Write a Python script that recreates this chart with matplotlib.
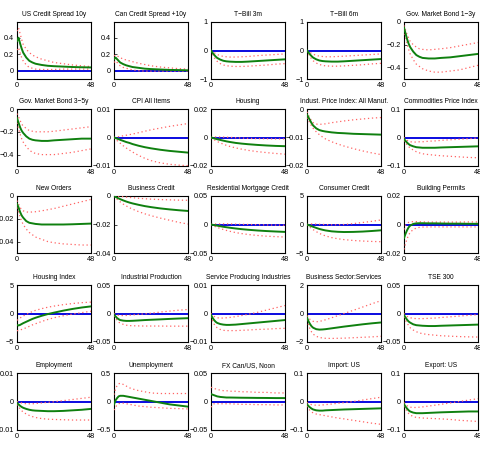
import matplotlib
matplotlib.use('Agg')
import matplotlib.pyplot as plt

plt.rcParams['font.family'] = ['Liberation Sans Narrow', 'Liberation Sans', 'DejaVu Sans']
plt.rcParams['axes.unicode_minus'] = True

# horizons (months) at which the responses were read
h = [0, 1, 2, 3, 4, 6, 8, 10, 12, 16, 20, 24, 30, 36, 42, 48]

titles = ['US Credit Spread 10y', 'Can Credit Spread +10y', 'T\u2212Bill 3m', 'T\u2212Bill 6m', 'Gov. Market Bond 1\u22123y',
          'Gov. Market Bond 3\u22125y', 'CPI All Items', 'Housing', 'Indust. Price Index: All Manuf.', 'Commodities Price Index',
          'New Orders', 'Business Credit', 'Residential Mortgage Credit', 'Consumer Credit', 'Building Permits',
          'Housing Index', 'Industrial Production', 'Service Producing Industries', 'Business Sector:Services', 'TSE 300',
          'Employment', 'Unemployment', 'FX Can/US, Noon', 'Import: US', 'Export: US']

ylims = [(-0.1, 0.59), (-0.1, 0.59), (-1, 1), (-1, 1), (-0.5, 0),
         (-0.5, 0), (-0.01, 0.01), (-0.02, 0.02), (-0.02, 0), (-0.1, 0.1),
         (-0.05, 0), (-0.04, 0), (-0.05, 0.05), (-5, 5), (-0.02, 0.02),
         (-5, 5), (-0.05, 0.05), (-0.01, 0.01), (-2, 2), (-0.05, 0.05),
         (-0.01, 0.01), (-0.5, 0.5), (-0.05, 0.05), (-0.1, 0.1), (-0.1, 0.1)]

yticks = [[0, 0.2, 0.4], [0, 0.2, 0.4], [-1, 0, 1], [-1, 0, 1], [-0.4, -0.2, 0],
          [-0.4, -0.2, 0], [-0.01, 0, 0.01], [-0.02, 0, 0.02], [-0.02, -0.01, 0], [-0.1, 0, 0.1],
          [-0.04, -0.02, 0], [-0.04, -0.02, 0], [-0.05, 0, 0.05], [-5, 0, 5], [-0.02, 0, 0.02],
          [-5, 0, 5], [-0.05, 0, 0.05], [-0.01, 0, 0.01], [-2, 0, 2], [-0.05, 0, 0.05],
          [-0.01, 0, 0.01], [-0.5, 0, 0.5], [-0.05, 0, 0.05], [-0.1, 0, 0.1], [-0.1, 0, 0.1]]

ytick_labels = [['0', '0.2', '0.4'], ['0', '0.2', '0.4'], ['\u22121', '0', '1'], ['\u22121', '0', '1'], ['\u22120.4', '\u22120.2', '0'],
                ['\u22120.4', '\u22120.2', '0'], ['\u22120.01', '0', '0.01'], ['\u22120.02', '0', '0.02'], ['\u22120.02', '\u22120.01', '0'], ['\u22120.1', '0', '0.1'],
                ['\u22120.04', '\u22120.02', '0'], ['\u22120.04', '\u22120.02', '0'], ['\u22120.05', '0', '0.05'], ['\u22125', '0', '5'], ['\u22120.02', '0', '0.02'],
                ['\u22125', '0', '5'], ['\u22120.05', '0', '0.05'], ['\u22120.01', '0', '0.01'], ['\u22122', '0', '2'], ['\u22120.05', '0', '0.05'],
                ['\u22120.01', '0', '0.01'], ['\u22120.5', '0', '0.5'], ['\u22120.05', '0', '0.05'], ['\u22120.1', '0', '0.1'], ['\u22120.1', '0', '0.1']]

# point estimates
irf_mid = [
    [0.36, 0.40, 0.33, 0.27, 0.22, 0.16, 0.12, 0.10, 0.085, 0.07, 0.06, 0.055, 0.05, 0.045, 0.042, 0.04],
    [0.14, 0.16, 0.14, 0.12, 0.10, 0.08, 0.065, 0.055, 0.045, 0.035, 0.025, 0.02, 0.015, 0.01, 0.008, 0.005],
    [0, -0.08, -0.15, -0.21, -0.26, -0.32, -0.36, -0.38, -0.39, -0.40, -0.40, -0.39, -0.37, -0.35, -0.33, -0.31],
    [0, -0.07, -0.14, -0.20, -0.25, -0.31, -0.35, -0.37, -0.38, -0.39, -0.39, -0.38, -0.36, -0.34, -0.32, -0.30],
    [-0.05, -0.10, -0.15, -0.19, -0.22, -0.26, -0.29, -0.305, -0.315, -0.32, -0.32, -0.315, -0.31, -0.30, -0.29, -0.28],
    [-0.08, -0.12, -0.16, -0.19, -0.21, -0.24, -0.26, -0.27, -0.275, -0.28, -0.28, -0.275, -0.27, -0.265, -0.26, -0.26],
    [0, -0.0002, -0.0004, -0.0006, -0.0008, -0.0012, -0.0016, -0.0019, -0.0023, -0.0029, -0.0034, -0.0038, -0.0043, -0.0047, -0.0050, -0.0053],
    [0, -0.0003, -0.0006, -0.0009, -0.0012, -0.0017, -0.0022, -0.0027, -0.0031, -0.0038, -0.0043, -0.0047, -0.0052, -0.0056, -0.0059, -0.0061],
    [-0.002, -0.003, -0.004, -0.005, -0.0058, -0.0068, -0.0074, -0.0077, -0.0079, -0.0082, -0.0084, -0.0085, -0.0087, -0.0088, -0.0089, -0.009],
    [-0.005, -0.012, -0.018, -0.023, -0.027, -0.031, -0.034, -0.035, -0.036, -0.036, -0.036, -0.035, -0.034, -0.033, -0.032, -0.031],
    [-0.007, -0.010, -0.014, -0.017, -0.019, -0.022, -0.0235, -0.024, -0.0245, -0.025, -0.025, -0.025, -0.025, -0.0248, -0.0245, -0.0242],
    [0, -0.0006, -0.0012, -0.0017, -0.0022, -0.0031, -0.0039, -0.0046, -0.0052, -0.0062, -0.0071, -0.0078, -0.0087, -0.0094, -0.0100, -0.0105],
    [0, -0.0005, -0.001, -0.0015, -0.002, -0.003, -0.004, -0.0048, -0.0056, -0.007, -0.0082, -0.0092, -0.0105, -0.0115, -0.0123, -0.013],
    [0, -0.1, -0.2, -0.3, -0.4, -0.6, -0.78, -0.92, -1.04, -1.2, -1.28, -1.32, -1.3, -1.24, -1.14, -1.02],
    [-0.0095, -0.0065, -0.004, -0.002, -0.0008, 0.0004, 0.0008, 0.0009, 0.0009, 0.0008, 0.0008, 0.0007, 0.0006, 0.0006, 0.0005, 0.0005],
    [-2.0, -2.1, -2.0, -1.85, -1.7, -1.45, -1.2, -0.95, -0.75, -0.4, -0.1, 0.15, 0.5, 0.8, 1.05, 1.25],
    [-0.002, -0.005, -0.008, -0.010, -0.0115, -0.0125, -0.013, -0.013, -0.0128, -0.0122, -0.0115, -0.011, -0.0103, -0.0095, -0.0088, -0.0082],
    [-0.0005, -0.0015, -0.0023, -0.0029, -0.0033, -0.0037, -0.0039, -0.004, -0.004, -0.0039, -0.0037, -0.0035, -0.0032, -0.0029, -0.0026, -0.0023],
    [-0.3, -0.55, -0.75, -0.9, -1.0, -1.1, -1.13, -1.12, -1.1, -1.04, -0.98, -0.92, -0.84, -0.76, -0.69, -0.63],
    [-0.003, -0.007, -0.011, -0.014, -0.016, -0.019, -0.0205, -0.021, -0.0215, -0.022, -0.022, -0.0215, -0.021, -0.0205, -0.02, -0.0195],
    [-0.0005, -0.001, -0.0015, -0.0019, -0.0022, -0.0026, -0.0029, -0.0031, -0.0032, -0.0033, -0.0034, -0.0034, -0.0033, -0.0031, -0.0029, -0.0026],
    [-0.05, 0.02, 0.06, 0.09, 0.1, 0.1, 0.09, 0.08, 0.07, 0.05, 0.03, 0.01, -0.02, -0.05, -0.07, -0.09],
    [0.013, 0.012, 0.011, 0.01, 0.009, 0.008, 0.0075, 0.007, 0.007, 0.0068, 0.0066, 0.0065, 0.0063, 0.0062, 0.006, 0.006],
    [-0.01, -0.016, -0.021, -0.025, -0.028, -0.031, -0.032, -0.032, -0.031, -0.03, -0.029, -0.028, -0.027, -0.026, -0.025, -0.024],
    [-0.01, -0.018, -0.025, -0.031, -0.035, -0.039, -0.041, -0.041, -0.041, -0.04, -0.039, -0.038, -0.037, -0.036, -0.035, -0.035],
]

# upper band
irf_hi = [
    [0.48, 0.52, 0.45, 0.38, 0.32, 0.26, 0.22, 0.19, 0.17, 0.14, 0.12, 0.10, 0.085, 0.07, 0.06, 0.05],
    [0.18, 0.19, 0.18, 0.17, 0.16, 0.14, 0.13, 0.12, 0.11, 0.09, 0.075, 0.06, 0.045, 0.035, 0.025, 0.02],
    [0, -0.03, -0.07, -0.11, -0.14, -0.18, -0.21, -0.22, -0.23, -0.23, -0.22, -0.21, -0.18, -0.16, -0.14, -0.12],
    [0, -0.03, -0.07, -0.10, -0.13, -0.17, -0.20, -0.21, -0.22, -0.22, -0.21, -0.20, -0.18, -0.16, -0.14, -0.12],
    [-0.03, -0.07, -0.11, -0.14, -0.17, -0.20, -0.22, -0.235, -0.24, -0.245, -0.24, -0.235, -0.225, -0.21, -0.195, -0.18],
    [-0.04, -0.07, -0.10, -0.13, -0.15, -0.17, -0.19, -0.195, -0.20, -0.20, -0.20, -0.195, -0.185, -0.175, -0.165, -0.155],
    [0, 0.0001, 0.0002, 0.0003, 0.0004, 0.0006, 0.0008, 0.0010, 0.0012, 0.0017, 0.0022, 0.0027, 0.0033, 0.0039, 0.0044, 0.0049],
    [0, 0.0002, 0.0003, 0.0004, 0.0004, 0.0004, 0.0003, 0.0002, 0.0001, -0.0002, -0.0004, -0.0006, -0.0008, -0.0009, -0.0010, -0.0010],
    [-0.001, -0.0022, -0.0033, -0.0042, -0.0048, -0.0053, -0.0054, -0.0053, -0.0052, -0.0048, -0.0045, -0.0042, -0.0038, -0.0035, -0.0032, -0.003],
    [0, -0.006, -0.010, -0.013, -0.015, -0.016, -0.016, -0.015, -0.015, -0.013, -0.012, -0.010, -0.008, -0.006, -0.004, -0.002],
    [-0.004, -0.007, -0.010, -0.012, -0.013, -0.014, -0.0142, -0.014, -0.0138, -0.013, -0.012, -0.011, -0.009, -0.007, -0.005, -0.003],
    [0, 0, -0.0001, -0.0002, -0.0003, -0.0005, -0.0008, -0.0010, -0.0012, -0.0016, -0.0019, -0.0022, -0.0025, -0.0027, -0.0029, -0.0030],
    [0, 0.0005, 0.0008, 0.001, 0.0011, 0.0012, 0.0012, 0.0011, 0.001, 0.0007, 0.0004, 0.0001, -0.0003, -0.0007, -0.001, -0.0013],
    [0, 0.05, 0.08, 0.1, 0.1, 0.08, 0.05, 0.02, 0.0, -0.05, -0.05, 0.0, 0.15, 0.35, 0.55, 0.8],
    [-0.0035, -0.0005, 0.0008, 0.0015, 0.0018, 0.002, 0.002, 0.0019, 0.0018, 0.0017, 0.0017, 0.0017, 0.0017, 0.0017, 0.0018, 0.0018],
    [-1.2, -1.0, -0.8, -0.6, -0.45, -0.15, 0.1, 0.35, 0.55, 0.85, 1.1, 1.3, 1.55, 1.75, 1.9, 2.0],
    [0.0, -0.0015, -0.0025, -0.0032, -0.0035, -0.0036, -0.0034, -0.003, -0.0025, -0.0015, -0.0005, 0.0005, 0.0025, 0.0042, 0.0058, 0.007],
    [0, -0.0005, -0.001, -0.0013, -0.0015, -0.0016, -0.0016, -0.0015, -0.0014, -0.0011, -0.0007, -0.0003, 0.0004, 0.0012, 0.002, 0.0028],
    [-0.15, -0.3, -0.42, -0.5, -0.55, -0.58, -0.56, -0.5, -0.44, -0.3, -0.15, 0.0, 0.22, 0.45, 0.68, 0.9],
    [0, -0.003, -0.005, -0.0065, -0.0075, -0.0085, -0.009, -0.009, -0.009, -0.0085, -0.008, -0.007, -0.0058, -0.0045, -0.0032, -0.002],
    [0, -0.0002, -0.0004, -0.0005, -0.0006, -0.0008, -0.0008, -0.0008, -0.0007, -0.0005, -0.0003, -0.0001, 0.0003, 0.0007, 0.0011, 0.0015],
    [0.12, 0.22, 0.28, 0.31, 0.32, 0.3, 0.27, 0.24, 0.22, 0.19, 0.17, 0.15, 0.14, 0.14, 0.14, 0.14],
    [0.025, 0.024, 0.023, 0.022, 0.021, 0.02, 0.019, 0.019, 0.018, 0.018, 0.017, 0.017, 0.016, 0.016, 0.015, 0.015],
    [-0.004, -0.007, -0.009, -0.011, -0.012, -0.013, -0.013, -0.012, -0.011, -0.009, -0.006, -0.004, 0.0, 0.005, 0.01, 0.015],
    [-0.004, -0.01, -0.015, -0.018, -0.02, -0.021, -0.021, -0.02, -0.019, -0.016, -0.013, -0.01, -0.005, 0.0, 0.005, 0.01],
]

# lower band
irf_lo = [
    [0.25, 0.28, 0.22, 0.16, 0.12, 0.07, 0.04, 0.03, 0.02, 0.015, 0.015, 0.015, 0.02, 0.02, 0.02, 0.02],
    [0.10, 0.12, 0.10, 0.08, 0.06, 0.04, 0.03, 0.02, 0.01, 0.0, -0.005, -0.005, -0.005, -0.005, -0.005, -0.005],
    [0, -0.13, -0.24, -0.32, -0.38, -0.46, -0.51, -0.53, -0.55, -0.56, -0.56, -0.55, -0.53, -0.51, -0.48, -0.46],
    [0, -0.12, -0.22, -0.30, -0.36, -0.44, -0.49, -0.52, -0.54, -0.55, -0.55, -0.54, -0.52, -0.50, -0.47, -0.45],
    [-0.07, -0.13, -0.19, -0.24, -0.28, -0.33, -0.37, -0.39, -0.41, -0.43, -0.44, -0.44, -0.43, -0.42, -0.40, -0.38],
    [-0.12, -0.17, -0.22, -0.26, -0.29, -0.33, -0.36, -0.38, -0.39, -0.40, -0.40, -0.40, -0.39, -0.38, -0.365, -0.35],
    [0, -0.0006, -0.0011, -0.0016, -0.0020, -0.0029, -0.0037, -0.0044, -0.0051, -0.0063, -0.0073, -0.0081, -0.0089, -0.0094, -0.0097, -0.0099],
    [0, -0.0008, -0.0015, -0.0022, -0.0028, -0.0038, -0.0047, -0.0055, -0.0062, -0.0073, -0.0082, -0.0090, -0.0099, -0.0106, -0.0112, -0.0117],
    [-0.003, -0.004, -0.005, -0.006, -0.0068, -0.008, -0.009, -0.0098, -0.0105, -0.0115, -0.0123, -0.013, -0.0139, -0.0147, -0.0154, -0.016],
    [-0.01, -0.018, -0.026, -0.032, -0.037, -0.044, -0.050, -0.054, -0.057, -0.060, -0.062, -0.064, -0.066, -0.068, -0.070, -0.071],
    [-0.010, -0.014, -0.018, -0.022, -0.025, -0.029, -0.032, -0.034, -0.036, -0.038, -0.040, -0.041, -0.042, -0.0425, -0.043, -0.043],
    [0, -0.0012, -0.0023, -0.0033, -0.0041, -0.0057, -0.0070, -0.0082, -0.0092, -0.0110, -0.0125, -0.0138, -0.0155, -0.0170, -0.0185, -0.0197],
    [0, -0.0015, -0.0028, -0.004, -0.005, -0.007, -0.0088, -0.0104, -0.0118, -0.0142, -0.016, -0.0175, -0.0192, -0.0205, -0.0213, -0.022],
    [0, -0.25, -0.5, -0.72, -0.9, -1.25, -1.55, -1.8, -2.0, -2.3, -2.5, -2.65, -2.8, -2.9, -2.97, -3.02],
    [-0.0175, -0.0135, -0.010, -0.0075, -0.0055, -0.0035, -0.0025, -0.002, -0.0018, -0.0017, -0.0017, -0.0017, -0.0017, -0.0017, -0.0017, -0.0017],
    [-3.0, -3.0, -2.9, -2.8, -2.7, -2.5, -2.25, -2.0, -1.8, -1.4, -1.05, -0.75, -0.4, -0.1, 0.15, 0.4],
    [-0.004, -0.008, -0.012, -0.015, -0.017, -0.019, -0.0205, -0.0212, -0.0215, -0.0218, -0.022, -0.022, -0.022, -0.0222, -0.0222, -0.0222],
    [-0.001, -0.0025, -0.0037, -0.0045, -0.005, -0.0056, -0.0059, -0.006, -0.006, -0.006, -0.0059, -0.0058, -0.0056, -0.0055, -0.0053, -0.0052],
    [-0.45, -0.8, -1.1, -1.3, -1.45, -1.6, -1.68, -1.72, -1.74, -1.75, -1.74, -1.73, -1.7, -1.67, -1.64, -1.6],
    [-0.006, -0.012, -0.017, -0.021, -0.025, -0.029, -0.032, -0.034, -0.0355, -0.037, -0.038, -0.039, -0.0398, -0.0405, -0.041, -0.0413],
    [-0.001, -0.0018, -0.0026, -0.0032, -0.0037, -0.0044, -0.0049, -0.0053, -0.0056, -0.006, -0.0062, -0.0063, -0.0064, -0.0065, -0.0065, -0.0065],
    [-0.15, -0.1, -0.06, -0.04, -0.03, -0.03, -0.04, -0.05, -0.06, -0.08, -0.09, -0.1, -0.11, -0.12, -0.125, -0.13],
    [-0.01, -0.006, -0.004, -0.004, -0.004, -0.004, -0.004, -0.004, -0.004, -0.0045, -0.005, -0.005, -0.0055, -0.0055, -0.006, -0.006],
    [-0.016, -0.025, -0.032, -0.037, -0.04, -0.044, -0.046, -0.048, -0.05, -0.054, -0.058, -0.061, -0.066, -0.071, -0.076, -0.08],
    [-0.016, -0.026, -0.035, -0.042, -0.047, -0.053, -0.056, -0.057, -0.058, -0.059, -0.06, -0.061, -0.063, -0.066, -0.068, -0.07],
]

W, H = 481, 455
fig = plt.figure(figsize=(W / 100, H / 100), dpi=100)

col_left = [17, 114, 211, 307, 404]
row_top = [22, 109, 196, 285, 373]
ax_w, ax_h = 74, 57

for i in range(25):
    r, c = divmod(i, 5)
    ax = fig.add_axes([col_left[c] / W, 1 - (row_top[r] + ax_h) / H, ax_w / W, ax_h / H])
    ax.plot([0, 48], [0, 0], color='#0a0ae0', lw=1.4, zorder=2)
    ax.plot(h, irf_hi[i], ls=(0, (1, 2.2)), color='#ff6464', lw=0.9, zorder=3)
    ax.plot(h, irf_lo[i], ls=(0, (1, 2.2)), color='#ff6464', lw=0.9, zorder=3)
    ax.plot(h, irf_mid[i], color='#0f800f', lw=1.4, zorder=4)
    ax.set_xlim(0, 48)
    ax.set_ylim(*ylims[i])
    ax.set_xticks([0, 48])
    ax.set_xticklabels(['0', '48'])
    ax.set_yticks(yticks[i])
    ax.set_yticklabels(ytick_labels[i])
    ax.tick_params(direction='in', length=2, width=0.5, labelsize=5.2, pad=2.5)
    for s in ax.spines.values():
        s.set_linewidth(0.8)
    ax.set_title(titles[i], fontsize=4.8, pad=4.5)

fig.savefig('out.png', dpi=100)
